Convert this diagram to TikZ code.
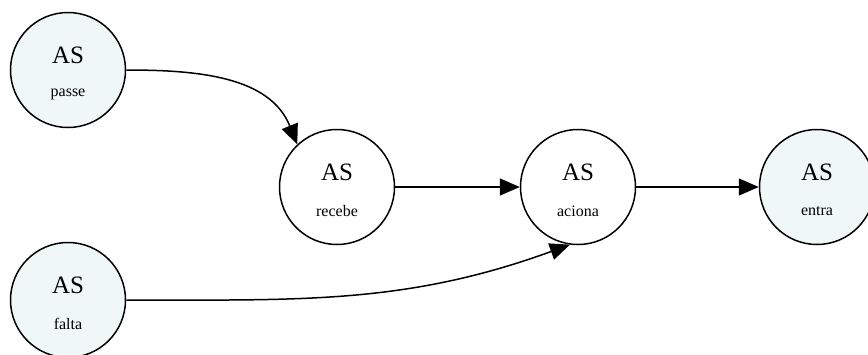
\documentclass[tikz,border=0pt]{standalone}
\usepackage{fontspec}
\setmainfont{Liberation Serif}
\usetikzlibrary{arrows.meta}
\definecolor{pale}{HTML}{EFF8F6}
\begin{document}
\begin{tikzpicture}[x=1pt,y=-1pt,
  st/.style={circle,draw=black,line width=1.5pt,minimum size=115pt,inner sep=0pt},
  lab/.style={font=\fontsize{25}{25}\selectfont},
  sub/.style={font=\fontsize{16}{16}\selectfont},
  arr/.style={line width=1.5pt,-{Triangle[length=20pt,width=17pt]}}]
\useasboundingbox (0,0) rectangle (868,354);
\node[st,fill=pale] (passe) at (68,70) {};
\node[st,fill=white] (recebe) at (337,187) {};
\node[st,fill=white] (aciona) at (578,187) {};
\node[st,fill=pale] (entra) at (817,187) {};
\node[st,fill=pale] (falta) at (68,300) {};
\foreach \n/\t in {passe/passe,recebe/recebe,aciona/aciona,entra/entra,falta/falta}{
  \node[lab] (\n-as) at ([yshift=15pt]\n.center) {AS};
  \node[sub] (\n-t) at ([yshift=-24pt]\n.center) {\t};
}
\draw[arr] (passe.east) to[out=0,in=112] (recebe.133);
\draw[arr] (recebe.east) -- (aciona.west);
\draw[arr] (aciona.east) -- (entra.west);
\draw[arr] (falta.east) to[out=0,in=200] (aciona.262);
\end{tikzpicture}
\end{document}
